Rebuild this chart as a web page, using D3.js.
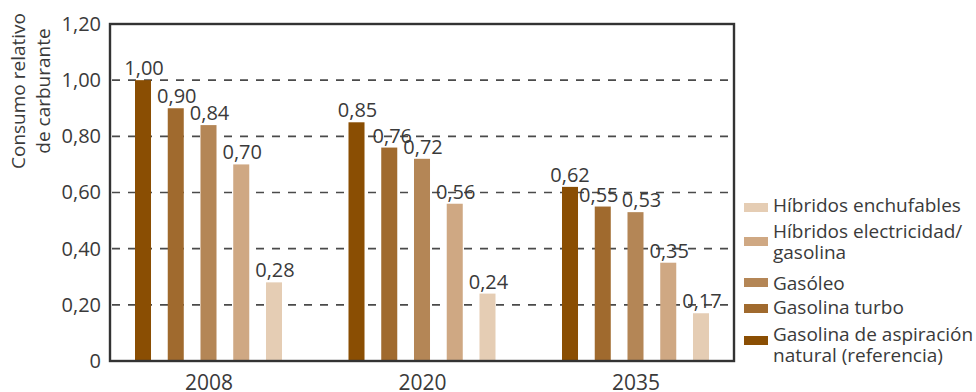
<!DOCTYPE html>
<html>
<head>
<meta charset="utf-8">
<script src="https://cdn.jsdelivr.net/npm/d3@7/dist/d3.min.js"></script>
<style>
  body { margin: 0; background: #fff; }
  svg { display: block; font-family: "Open Sans", "Noto Sans", sans-serif; }
</style>
</head>
<body>
<svg id="chart" width="976" height="392"></svg>
<script>
// Fuel consumption relative to naturally aspirated petrol (reference = 1)
const years = ["2008", "2020", "2035"];
const series = [
  "Gasolina de aspiración natural (referencia)",
  "Gasolina turbo",
  "Gasóleo",
  "Híbridos electricidad/gasolina",
  "Híbridos enchufables"
];
const values2008 = [1.00, 0.90, 0.84, 0.70, 0.28];
const values2020 = [0.85, 0.76, 0.72, 0.56, 0.24];
const values2035 = [0.62, 0.55, 0.53, 0.35, 0.17];
const yTicks = [0, 0.2, 0.4, 0.6, 0.8, 1.0, 1.2];
const colors = ["#8a4e03", "#a06a2e", "#b48656", "#cfa883", "#e5cdb4"];
const legendLines = [
  ["Híbridos enchufables"],
  ["Híbridos electricidad/", "gasolina"],
  ["Gasóleo"],
  ["Gasolina turbo"],
  ["Gasolina de aspiración", "natural (referencia)"]
];

const valuesByYear = { "2008": values2008, "2020": values2020, "2035": values2035 };
// horizontal nudges that keep crowded value labels apart
const labelNudge = { "2008": [0, 0, 0, 0, 0], "2020": [0, 2, 0, 0, 0], "2035": [-1, -5, 5, 0, 0] };

const svg = d3.select("#chart");
const plotLeft = 110, plotRight = 734, plotTop = 24, plotBottom = 361;
const textColor = "#3a3a3a";

const y = d3.scaleLinear().domain([0, 1.2]).range([plotBottom, plotTop]);
const xGroup = d3.scalePoint().domain(years).range([208.5, 635.5]);
const xBar = d3.scaleBand().domain(series).range([-73.5, 73.5])
  .paddingInner(0.511).paddingOuter(0);

const fmt = v => d3.format(".2f")(v).replace(".", ",");
const tickFmt = v => v === 0 ? "0" : fmt(v);

// dashed gridlines
svg.append("g")
  .selectAll("line")
  .data(yTicks.filter(t => t > 0 && t < 1.2))
  .join("line")
  .attr("x1", plotLeft).attr("x2", plotRight)
  .attr("y1", d => y(d)).attr("y2", d => y(d))
  .attr("stroke", "#4a4a4a")
  .attr("stroke-width", 1.6)
  .attr("stroke-dasharray", "8,8")
  .attr("stroke-dashoffset", -2);

// bars
const groups = svg.append("g")
  .selectAll("g")
  .data(years)
  .join("g")
  .attr("transform", d => `translate(${xGroup(d)},0)`);

const rows = yr => series.map((s, i) => ({ s, i, yr, v: valuesByYear[yr][i] }));

groups.selectAll("rect")
  .data(rows)
  .join("rect")
  .attr("x", d => xBar(d.s))
  .attr("width", xBar.bandwidth())
  .attr("y", d => y(d.v))
  .attr("height", d => y(0) - y(d.v))
  .attr("fill", d => colors[d.i]);

groups.selectAll("text")
  .data(rows)
  .join("text")
  .attr("x", d => xBar(d.s) + xBar.bandwidth() / 2 + 1 + labelNudge[d.yr][d.i])
  .attr("y", d => y(d.v) - 5)
  .attr("text-anchor", "middle")
  .attr("font-size", 20)
  .attr("fill", textColor)
  .text(d => fmt(d.v));

// frame
svg.append("rect")
  .attr("x", plotLeft).attr("y", plotTop)
  .attr("width", plotRight - plotLeft).attr("height", plotBottom - plotTop)
  .attr("fill", "none")
  .attr("stroke", "#333")
  .attr("stroke-width", 2.4);

// y axis labels
const yAxis = d3.axisLeft(y).tickValues(yTicks).tickFormat(tickFmt).tickSize(0).tickPadding(9);
const yg = svg.append("g").attr("transform", `translate(${plotLeft},0)`).call(yAxis);
yg.select(".domain").remove();
yg.selectAll("text")
  .attr("font-size", 20)
  .attr("font-family", "'Open Sans', sans-serif")
  .attr("fill", textColor);

// x axis labels
const xAxis = d3.axisBottom(xGroup).tickSize(0).tickPadding(14);
const xg = svg.append("g").attr("transform", `translate(0,${plotBottom})`).call(xAxis);
xg.select(".domain").remove();
xg.selectAll("text")
  .attr("font-size", 21)
  .attr("font-family", "'Open Sans', sans-serif")
  .attr("fill", textColor);

// y axis title
const title = svg.append("text")
  .attr("transform", "translate(0,91) rotate(-90)")
  .attr("text-anchor", "middle")
  .attr("font-size", 19)
  .attr("fill", textColor);
title.append("tspan").attr("x", 0).attr("y", 25).text("Consumo relativo");
title.append("tspan").attr("x", 0).attr("y", 50).text("de carburante");

// legend
const legendSwatchColor = [colors[4], colors[3], colors[2], colors[1], colors[0]];
const legendSwatchY = [203, 237, 278, 304, 336];
const legendTextY = [[212], [238, 259], [290], [314], [341, 362]];
const lg = svg.append("g");
legendLines.forEach((lines, i) => {
  lg.append("rect")
    .attr("x", 744).attr("y", legendSwatchY[i])
    .attr("width", 24).attr("height", 9)
    .attr("fill", legendSwatchColor[i]);
  lines.forEach((t, j) => {
    lg.append("text")
      .attr("x", 773).attr("y", legendTextY[i][j])
      .attr("font-size", 19)
      .attr("fill", textColor)
      .text(t);
  });
});
</script>
</body>
</html>
